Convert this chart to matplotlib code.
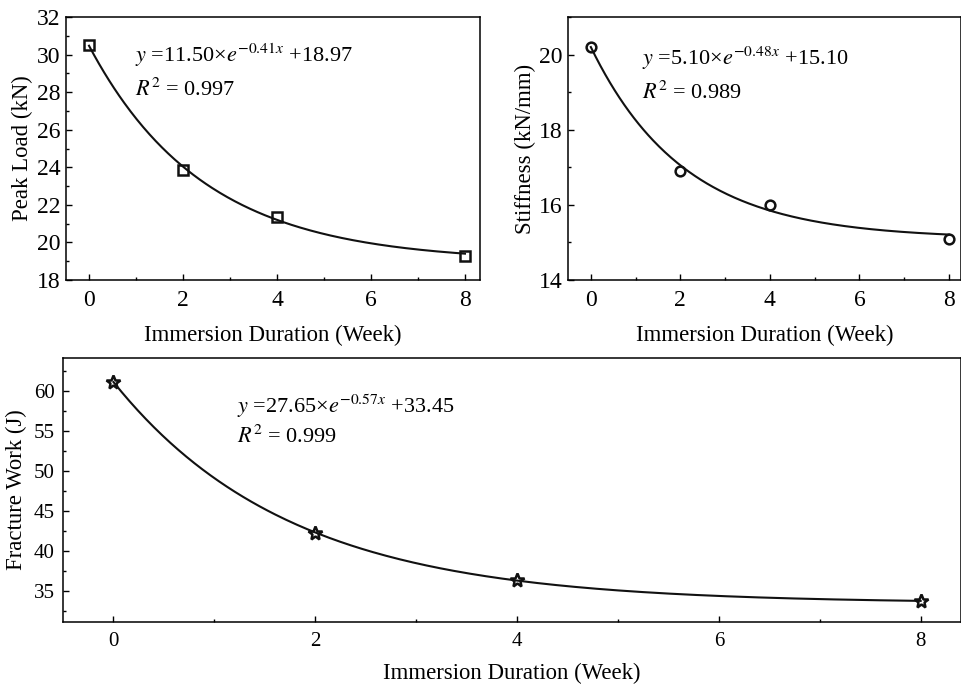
import numpy as np
import matplotlib
matplotlib.use('Agg')
import matplotlib.pyplot as plt
from matplotlib.ticker import MultipleLocator

plt.rcParams['font.family'] = ['Liberation Serif', 'DejaVu Serif']
plt.rcParams['mathtext.fontset'] = 'stix'

# 数据
weeks = [0, 2, 4, 8]
peak_load = [30.5, 23.85, 21.35, 19.3]
stiffness = [20.2, 16.9, 16.0, 15.1]
fracture_work = [61.1, 42.2, 36.3, 33.7]

# 拟合参数 y = a*exp(b*x) + c
fit_load = (11.50, -0.41, 18.97)
fit_stiff = (5.10, -0.48, 15.10)
fit_work = (27.65, -0.57, 33.45)

W, H = 962, 686
fig = plt.figure(figsize=(W / 100, H / 100), dpi=100)


def px_axes(l, t, r, b):
    return fig.add_axes([l / W, 1 - b / H, (r - l) / W, (b - t) / H])


def style(ax, size, xpad, ypad):
    for s in ax.spines.values():
        s.set_linewidth(1.1)
    ax.tick_params(which='both', direction='in', labelsize=size, width=1.0)
    ax.tick_params(which='major', length=4)
    ax.tick_params(which='minor', length=2.5)
    ax.tick_params(axis='x', pad=xpad)
    ax.tick_params(axis='y', pad=ypad)


def draw(ax, y, fit, marker, ms):
    a, b, c = fit
    xx = np.linspace(0, 8, 300)
    ax.plot(xx, a * np.exp(b * xx) + c, color='#111111', lw=1.5)
    ax.plot(weeks, y, linestyle='none', marker=marker, ms=ms, mfc='none',
            mec='#111111', mew=1.8)


def eq_text(ax, x, y1, y2, fit, r2, size):
    a, b, c = fit
    ax.text(x, y1, r'$y$ =%.2f×$e^{%.2fx}$ +%.2f' % (a, b, c),
            transform=ax.transAxes, fontsize=size)
    ax.text(x, y2, r'$R^2$ = %.3f' % r2, transform=ax.transAxes, fontsize=size)


# 左上：峰值荷载
ax1 = px_axes(66, 17, 480, 280)
draw(ax1, peak_load, fit_load, 's', 7)
ax1.set_xlim(-0.49, 8.32)
ax1.set_ylim(18, 32)
ax1.xaxis.set_major_locator(MultipleLocator(2))
ax1.xaxis.set_minor_locator(MultipleLocator(1))
ax1.yaxis.set_major_locator(MultipleLocator(2))
ax1.yaxis.set_minor_locator(MultipleLocator(1))
style(ax1, 17, 7, 4)
ax1.set_xlabel('Immersion Duration (Week)', fontsize=16.4, labelpad=10)
ax1.set_ylabel('Peak Load (kN)', fontsize=16.4, labelpad=3)
eq_text(ax1, 0.167, 0.829, 0.70, fit_load, 0.997, 16)

# 右上：刚度
ax2 = px_axes(568, 17, 961, 280)
draw(ax2, stiffness, fit_stiff, 'o', 7)
ax2.set_xlim(-0.51, 8.27)
ax2.set_ylim(14, 21)
ax2.xaxis.set_major_locator(MultipleLocator(2))
ax2.xaxis.set_minor_locator(MultipleLocator(1))
ax2.yaxis.set_major_locator(MultipleLocator(2))
ax2.yaxis.set_minor_locator(MultipleLocator(1))
style(ax2, 17, 7, 4)
ax2.set_xlabel('Immersion Duration (Week)', fontsize=16.4, labelpad=10)
ax2.set_ylabel('Stiffness (kN/mm)', fontsize=16.4, labelpad=2)
eq_text(ax2, 0.188, 0.817, 0.69, fit_stiff, 0.989, 16)

# 下方：断裂功
ax3 = px_axes(63, 358, 961, 622)
draw(ax3, fracture_work, fit_work, '*', 10)
ax3.set_xlim(-0.5, 8.4)
ax3.set_ylim(31.1, 64.1)
ax3.xaxis.set_major_locator(MultipleLocator(2))
ax3.xaxis.set_minor_locator(MultipleLocator(1))
ax3.yaxis.set_major_locator(MultipleLocator(5))
ax3.yaxis.set_minor_locator(MultipleLocator(2.5))
style(ax3, 15, 7, 6)
ax3.set_xlabel('Immersion Duration (Week)', fontsize=16.4, labelpad=9)
ax3.set_ylabel('Fracture Work (J)', fontsize=16.4, labelpad=5)
eq_text(ax3, 0.194, 0.79, 0.68, fit_work, 0.999, 16)

fig.savefig('out.png', dpi=100)
